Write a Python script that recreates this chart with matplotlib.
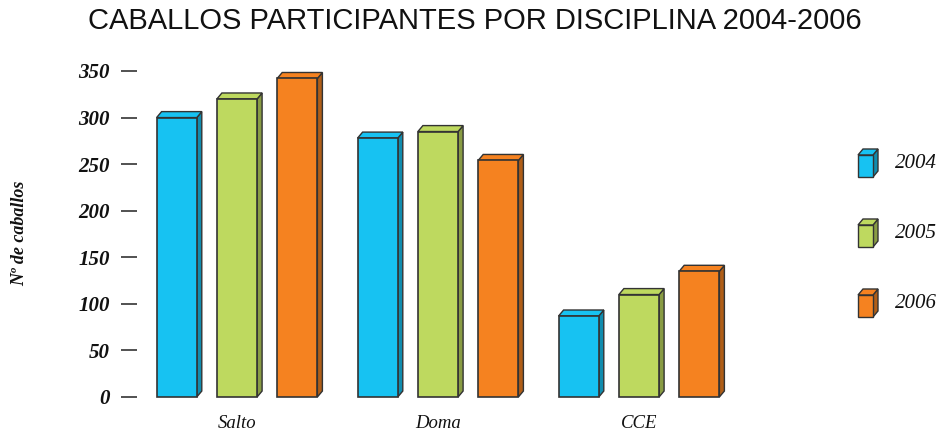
import matplotlib
matplotlib.use("Agg")
import matplotlib.pyplot as plt
from matplotlib.patches import Polygon, Rectangle
import matplotlib.colors as mcolors

categories = ["Salto", "Doma", "CCE"]
years = ["2004", "2005", "2006"]
values_2004 = [300, 278, 87]
values_2005 = [320, 285, 110]
values_2006 = [342, 254, 135]
yticks = [0, 50, 100, 150, 200, 250, 300, 350]

colors = ["#17C2F2", "#BED95F", "#F58220"]
series = [values_2004, values_2005, values_2006]

def darker(c, f=0.72):
    r, g, b = mcolors.to_rgb(c)
    return (r * f, g * f, b * f)

W, H = 939, 433
fig = plt.figure(figsize=(W / 100, H / 100), dpi=100)
ax = fig.add_axes([137 / W, 36 / H, 603 / W, 326 / H])
ax.set_xlim(-0.4975, 2.5025)
ax.set_ylim(0, 350)
for s in ax.spines.values():
    s.set_visible(False)

serif = "Liberation Serif"
ax.set_yticks(yticks)
ax.set_yticklabels([str(t) for t in yticks], fontfamily=serif, fontweight="bold",
                   fontstyle="italic", fontsize=15, color="#111111")
ax.tick_params(axis="y", length=11.5, width=1.2, color="#333333", pad=8)
ax.set_xticks(range(len(categories)))
ax.set_xticklabels(categories, fontfamily=serif, fontstyle="italic", fontsize=13.5, color="#111111")
ax.tick_params(axis="x", length=0, pad=13)

bw = 0.2
offsets = [-0.3, 0.0, 0.3]
dx = 5 / 201
dy = 6.4
edge = "#333333"
for j, vals in enumerate(series):
    for i, v in enumerate(vals):
        x0 = i + offsets[j] - bw / 2
        x1 = x0 + bw
        c = colors[j]
        # side
        ax.add_patch(Polygon([(x1, 0), (x1 + dx, dy), (x1 + dx, v + dy), (x1, v)],
                             closed=True, facecolor=darker(c), edgecolor=edge, lw=1, clip_on=False))
        # top
        ax.add_patch(Polygon([(x0, v), (x0 + dx, v + dy), (x1 + dx, v + dy), (x1, v)],
                             closed=True, facecolor=c, edgecolor=edge, lw=1, clip_on=False))
        # front
        ax.add_patch(Rectangle((x0, 0), bw, v, facecolor=c, edgecolor=edge, lw=1.2, clip_on=False))

fig.text(20 / W, 1 - 233 / H, "Nº de caballos", rotation=90, ha="center", va="center",
         fontfamily=serif, fontweight="bold", fontstyle="italic", fontsize=13, color="#111111")
fig.text(0.5 * (83 + 866) / W, 1 - 21 / H, "CABALLOS PARTICIPANTES POR DISCIPLINA 2004-2006",
         ha="center", va="center", fontfamily="Liberation Sans", fontsize=21, color="#111111")

# legend overlay in pixel coordinates
lax = fig.add_axes([0, 0, 1, 1], facecolor="none")
lax.set_xlim(0, W)
lax.set_ylim(H, 0)
lax.axis("off")
leg_y = [166, 236, 306]
for j, yr in enumerate(years):
    c = colors[j]
    cx0, cx1 = 858, 873
    cy_b = leg_y[j] + 11
    cy_t = leg_y[j] - 11
    ddx, ddy = 5, 6
    lax.add_patch(Polygon([(cx1, cy_b), (cx1 + ddx, cy_b - ddy), (cx1 + ddx, cy_t - ddy), (cx1, cy_t)],
                          closed=True, facecolor=darker(c), edgecolor=edge, lw=1))
    lax.add_patch(Polygon([(cx0, cy_t), (cx0 + ddx, cy_t - ddy), (cx1 + ddx, cy_t - ddy), (cx1, cy_t)],
                          closed=True, facecolor=c, edgecolor=edge, lw=1))
    lax.add_patch(Rectangle((cx0, cy_t), cx1 - cx0, cy_b - cy_t, facecolor=c, edgecolor=edge, lw=1))
    lax.text(895, leg_y[j] - 3, yr, ha="left", va="center", fontfamily=serif,
             fontstyle="italic", fontsize=15, color="#111111")

fig.savefig("out.png", dpi=100)
